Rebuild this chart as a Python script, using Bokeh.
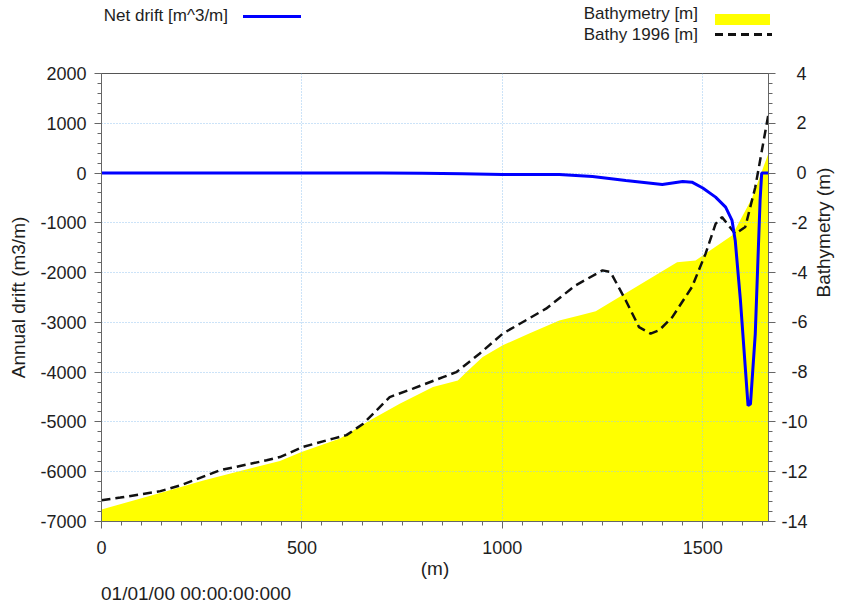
import math
from bokeh.plotting import figure
from bokeh.layouts import column
from bokeh.models import (Range1d, LinearAxis, FixedTicker, Div, CustomJSTickFormatter)
from bokeh.embed import file_html
from bokeh.resources import INLINE

# ---------------- data ----------------
bathy_x = [0, 155, 254, 346, 445, 499, 595, 669, 744, 827, 889, 910, 951, 1001,
           1067, 1142, 1192, 1233, 1436, 1482, 1573, 1623, 1664]
bathy_m = [-13.52, -12.81, -12.35, -11.97, -11.57, -11.21, -10.67, -9.94, -9.27,
           -8.60, -8.33, -8.0, -7.39, -6.92, -6.45, -5.92, -5.72, -5.55, -3.58,
           -3.51, -2.51, -1.0, 0.8]

bathy96_x = [0, 47, 147, 197, 296, 412, 445, 503, 578, 611, 653, 719, 777, 852, 885,
             943, 1001, 1109, 1183, 1250, 1270, 1308, 1341, 1370, 1391, 1424, 1473,
             1507, 1532, 1548, 1581, 1606, 1631, 1664]
bathy96_m = [-13.15, -13.04, -12.78, -12.55, -11.94, -11.54, -11.41, -11.0, -10.67,
             -10.53, -10.07, -9.0, -8.66, -8.2, -8.0, -7.26, -6.45, -5.45, -4.51,
             -3.91, -3.98, -5.12, -6.19, -6.45, -6.32, -5.79, -4.58, -3.24, -2.04,
             -1.77, -2.44, -2.17, -0.57, 2.38]

drift_x = [0, 700, 800, 900, 1000, 1100, 1142, 1225, 1308, 1399, 1450, 1473, 1500,
           1532, 1557, 1573, 1581, 1594, 1606, 1613, 1619, 1631, 1643, 1647, 1664]
drift_v = [0, 0, -5, -15, -30, -30, -30, -68, -149, -229, -170, -183, -300, -484,
           -685, -952, -1354, -2560, -3900, -4670, -4640, -3230, -550, 0, 0]

x_ticks = [0, 500, 1000, 1500]
left_ticks = [2000, 1000, 0, -1000, -2000, -3000, -4000, -5000, -6000, -7000]
right_ticks = [4, 2, 0, -2, -4, -6, -8, -10, -12, -14]

legend_drift = "Net drift [m^3/m]"
legend_bathy = "Bathymetry [m]"
legend_bathy96 = "Bathy 1996 [m]"
date_text = "01/01/00 00:00:00:000"

# ---------------- styling constants ----------------
FONT = "Liberation Sans"
TXT = "#1e1e1e"
AX = "#666666"
BLUE = "#0000ff"
YELLOW = "#ffff00"
DASH = "#111111"
W = 847
HEAD_H = 42
FOOT_H = 22
FIG_H = 604 - HEAD_H - FOOT_H

# ---------------- figure ----------------
p = figure(width=W, height=FIG_H, output_backend="svg", toolbar_location=None,
           x_range=Range1d(0, 1664), y_range=Range1d(-7000, 2000),
           min_border_left=101, min_border_right=77, min_border_top=31,
           min_border_bottom=61)
p.extra_y_ranges = {"bathy": Range1d(-14, 4)}
p.outline_line_color = "#555555"
p.outline_line_width = 1
p.background_fill_color = "white"
p.border_fill_color = "white"

p.xgrid.ticker = FixedTicker(ticks=x_ticks)
p.ygrid.ticker = FixedTicker(ticks=left_ticks)
for g in (p.xgrid, p.ygrid):
    g.grid_line_color = "#98c6f0"
    g.grid_line_dash = "1 2"
    g.grid_line_width = 1

area = p.varea(x=bathy_x, y1=-14, y2=bathy_m, y_range_name="bathy",
               fill_color=YELLOW, level="image")
dash = p.line(bathy96_x, bathy96_m, y_range_name="bathy", line_color=DASH,
              line_width=2.5, line_dash="9 5")
drift = p.line(drift_x, drift_v, line_color=BLUE, line_width=3)


def style_axis(ax):
    ax.axis_line_color = AX
    ax.major_tick_line_color = AX
    ax.minor_tick_line_color = AX
    ax.major_tick_in = 0
    ax.major_tick_out = 7
    ax.minor_tick_in = 0
    ax.minor_tick_out = 4
    ax.major_label_text_font = FONT
    ax.major_label_text_font_size = "18px"
    ax.major_label_text_color = TXT
    ax.axis_label_text_font = FONT
    ax.axis_label_text_font_size = "19px"
    ax.axis_label_text_font_style = "normal"
    ax.axis_label_text_color = TXT


xa = p.xaxis[0]
xa.ticker = FixedTicker(ticks=x_ticks, minor_ticks=list(range(0, 1664, 50)))
xa.formatter = CustomJSTickFormatter(code="return String(tick)")
xa.axis_label = "(m)"
style_axis(xa)
xa.major_label_standoff = 12
xa.axis_label_standoff = 1

ya = p.yaxis[0]
ya.ticker = FixedTicker(ticks=left_ticks, minor_ticks=list(range(-7000, 2001, 200)))
ya.formatter = CustomJSTickFormatter(code="return String(tick)")
ya.axis_label = "Annual drift (m3/m)"
style_axis(ya)
ya.major_label_standoff = 8
ya.axis_label_standoff = 8

# right axis: labels padded with no-break spaces so they line up on the right
right_fmt = CustomJSTickFormatter(code="""
const s = String(tick);
if (s.length == 1) return "\\u00a0\\u00a0\\u00a0" + s;
if (s.length == 2) return "\\u00a0\\u00a0" + s;
return s;
""")
ra = LinearAxis(y_range_name="bathy",
                ticker=FixedTicker(ticks=right_ticks,
                                   minor_ticks=[round(-14 + 0.4 * i, 1) for i in range(46)]),
                formatter=right_fmt,
                axis_label="Bathymetry (m)", axis_label_orientation=math.pi / 2)
style_axis(ra)
ra.major_label_standoff = 6
ra.axis_label_standoff = 13
p.add_layout(ra, "right")

# ---------------- legend header and date footer ----------------
header_html = f"""
<div style="position:relative;width:{W}px;height:{HEAD_H}px;font-family:'{FONT}';font-size:17px;line-height:16px;color:{TXT};white-space:nowrap;">
  <span style="position:absolute;right:619px;top:8px;">{legend_drift}</span>
  <div style="position:absolute;left:243px;top:14.5px;width:58px;height:3px;background:{BLUE};"></div>
  <span style="position:absolute;right:149px;top:6px;">{legend_bathy}</span>
  <div style="position:absolute;left:715px;top:14px;width:55px;height:11px;background:{YELLOW};"></div>
  <span style="position:absolute;right:149px;top:27px;">{legend_bathy96}</span>
  <div style="position:absolute;left:715px;top:33px;width:57px;height:3px;background:repeating-linear-gradient(90deg,{DASH} 0px,{DASH} 8px,transparent 8px,transparent 13px);"></div>
</div>
"""
header = Div(text=header_html, width=W, height=HEAD_H, margin=0)

footer_html = f"""
<div style="position:relative;width:{W}px;height:{FOOT_H}px;font-family:'{FONT}';font-size:19px;line-height:20px;color:{TXT};white-space:nowrap;">
  <span style="position:absolute;left:101px;top:2px;">{date_text}</span>
</div>
"""
footer = Div(text=footer_html, width=W, height=FOOT_H, margin=0)

layout = column(header, p, footer, spacing=0)

open("out.html", "w").write(file_html(layout, INLINE))
